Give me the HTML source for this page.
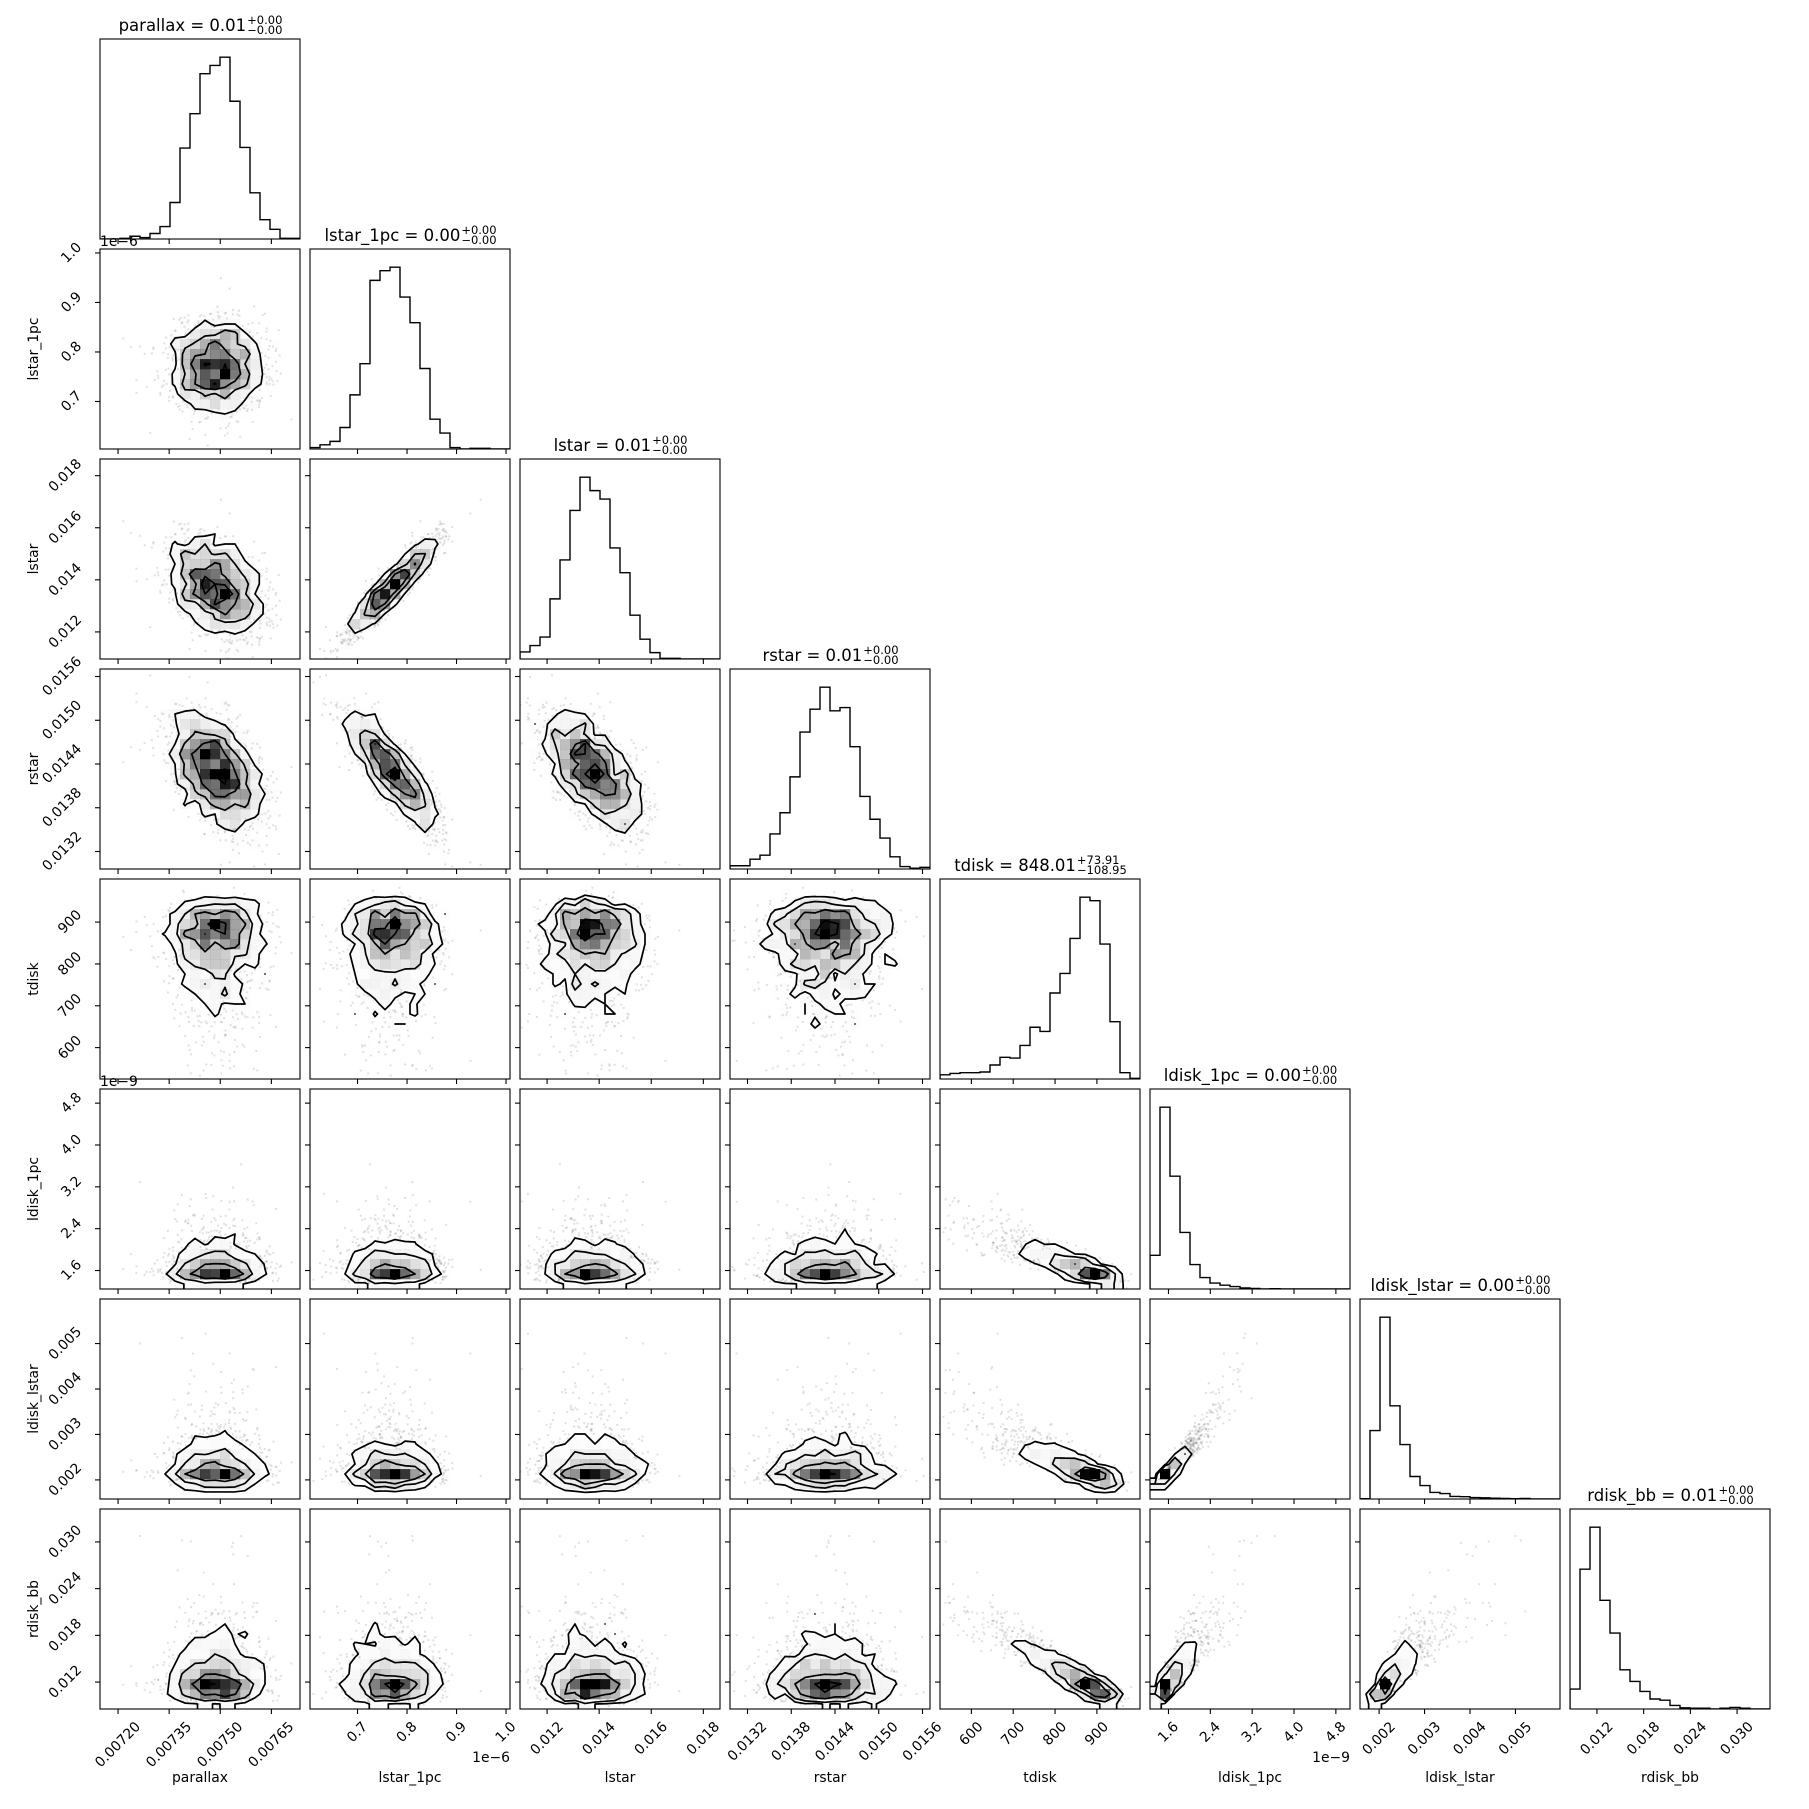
<!DOCTYPE html>
<html><head><meta charset="utf-8">
<style>html,body{margin:0;padding:0;background:#fff}svg{display:block}</style>
</head><body>
<svg id="s" width="1809" height="1809" xmlns="http://www.w3.org/2000/svg" font-family="DejaVu Sans, Liberation Sans, sans-serif"></svg>
<script>
(function(){
var seed=24681357;
function rnd(){seed|=0;seed=seed+0x6D2B79F5|0;var t=Math.imul(seed^seed>>>15,1|seed);t=t+Math.imul(t^t>>>7,61|t)^t;return((t^t>>>14)>>>0)/4294967296;}
function gauss(){var u=0;while(u===0)u=rnd();return Math.sqrt(-2*Math.log(u))*Math.cos(2*Math.PI*rnd());}
var W=200,G=210,L0=100,T0=39,NB=20;
var RANGE=[[0.007147,0.007734],[0.604,1.008],[0.01096,0.01864],[0.01296,0.015703],[525,1003],[1.247,5.07],[0.00158,0.00598],[0.00854,0.03423]];
var TICKS=[
 [[0.0072,"0.00720"],[0.00735,"0.00735"],[0.0075,"0.00750"],[0.00765,"0.00765"]],
 [[0.7,"0.7"],[0.8,"0.8"],[0.9,"0.9"],[1.0,"1.0"]],
 [[0.012,"0.012"],[0.014,"0.014"],[0.016,"0.016"],[0.018,"0.018"]],
 [[0.0132,"0.0132"],[0.0138,"0.0138"],[0.0144,"0.0144"],[0.0150,"0.0150"],[0.0156,"0.0156"]],
 [[600,"600"],[700,"700"],[800,"800"],[900,"900"]],
 [[1.6,"1.6"],[2.4,"2.4"],[3.2,"3.2"],[4.0,"4.0"],[4.8,"4.8"]],
 [[0.002,"0.002"],[0.003,"0.003"],[0.004,"0.004"],[0.005,"0.005"]],
 [[0.012,"0.012"],[0.018,"0.018"],[0.024,"0.024"],[0.030,"0.030"]]];
var NAMES=["parallax","lstar_1pc","lstar","rstar","tdisk","ldisk_1pc","ldisk_lstar","rdisk_bb"];
var TITLES=[["0.01","+0.00","\u22120.00"],["0.00","+0.00","\u22120.00"],["0.01","+0.00","\u22120.00"],["0.01","+0.00","\u22120.00"],["848.01","+73.91","\u2212108.95"],["0.00","+0.00","\u22120.00"],["0.00","+0.00","\u22120.00"],["0.01","+0.00","\u22120.00"]];
var CW={a:.613,b:.635,c:.55,d:.635,e:.615,i:.278,k:.579,l:.278,n:.634,p:.635,r:.411,s:.521,t:.392,x:.592,_:.5,'.':.318,' ':.318,'=':.838,'+':.838,'\u2212':.838};
function tw(s,sz){var w=0;for(var q=0;q<s.length;q++){var ch=s[q];w+=(CW[ch]!==undefined?CW[ch]:.636);}return w*sz;}
function fr(v,k){return (v-RANGE[k][0])/(RANGE[k][1]-RANGE[k][0]);}
var N=1600,S=[[],[],[],[],[],[],[],[]];
for(var k=0;k<N;k++){
 var z1=gauss(),z2=gauss(),n=gauss(),u=gauss(),n2=gauss(),n3=gauss(),n4=gauss(),n5=gauss(),n6=gauss();
 S[0].push(.58+.12*z1);
 S[1].push(.41+.12*z2);
 S[2].push(.36+.13*(.93*z2-.37*z1));
 S[3].push(.49+.15*(-.85*z2-.45*z1+.28*n));
 S[4].push(.95-.25*Math.exp(.55*u)+.03*n2);
 S[5].push(fr(1.33+0.04*n6+0.3*Math.exp(0.6*u+0.25*n3),5));
 S[6].push(fr(0.0019+0.00006*n6+0.0003*Math.exp(0.75*u+0.25*n3+0.2*n4),6));
 S[7].push(fr(0.0092+0.0005*n6+0.003*Math.exp(0.65*u+0.15*n5),7));
}
var out=[];
function f2(x){return x.toFixed(2);}
var LV=[0.5,1,1.5,2].map(function(s){return 1-Math.exp(-0.5*s*s);});
for(var i=0;i<8;i++){
 for(var j=0;j<=i;j++){
  var left=L0+G*j, top=T0+G*i, bot=top+W;
  var X=function(f){return left+f*W;}, Y=function(f){return top+(1-f)*W;};
  var cid="c"+i+"_"+j;
  out.push('<clipPath id="'+cid+'"><rect x="'+left+'" y="'+top+'" width="'+W+'" height="'+W+'"/></clipPath>');
  out.push('<g clip-path="url(#'+cid+')">');
  if(i===j){
   var h=new Array(NB).fill(0);
   S[i].forEach(function(v){if(v>=0&&v<1)h[Math.floor(v*NB)]++;});
   var mx=Math.max.apply(null,h)*1.1;
   var d='M'+f2(X(0))+' '+bot;
   for(var b=0;b<NB;b++){var yy=top+(1-h[b]/mx)*W;d+=' L'+f2(X(b/NB))+' '+f2(yy)+' L'+f2(X((b+1)/NB))+' '+f2(yy);}
   d+=' L'+f2(X(1))+' '+bot;
   out.push('<path d="'+d+'" fill="none" stroke="#000" stroke-width="1.4"/>');
  } else {
   var H=[];for(var a=0;a<NB;a++){H.push(new Array(NB).fill(0));}
   var xs=S[j],ys=S[i];
   for(var k2=0;k2<N;k2++){var x=xs[k2],y=ys[k2];if(x>=0&&x<1&&y>=0&&y<1)H[Math.floor(x*NB)][Math.floor(y*NB)]++;}
   var flat=[];H.forEach(function(r){r.forEach(function(v){flat.push(v);});});
   flat.sort(function(a,b){return b-a;});
   var tot=flat.reduce(function(a,b){return a+b;},0),cs=0,sm=flat.map(function(v){cs+=v;return cs/tot;});
   var V=LV.map(function(v0){var idx=-1;for(var q=0;q<sm.length;q++)if(sm[q]<=v0)idx=q;return idx<0?flat[0]:flat[idx];});
   V.sort(function(a,b){return a-b;});
   var Hmax=flat[0];
   var pts='';
   for(var k3=0;k3<N;k3++){var x=xs[k3],y=ys[k3];if(x<0||x>=1||y<0||y>=1)continue;
    if(H[Math.floor(x*NB)][Math.floor(y*NB)]>=V[0])continue;
    pts+='<rect x="'+f2(X(x)-1)+'" y="'+f2(Y(y)-1)+'" width="2" height="2"/>';}
   out.push('<g fill="#000" fill-opacity="0.12">'+pts+'</g>');
   for(var a=0;a<NB;a++)for(var b=0;b<NB;b++){var v=H[a][b];if(!v)continue;var t=1-v/Hmax;var c=Math.round(t*255);
    out.push('<rect x="'+f2(X(a/NB))+'" y="'+f2(Y((b+1)/NB))+'" width="10.3" height="10.3" fill="rgb('+c+','+c+','+c+')" fill-opacity="'+(1-t).toFixed(3)+'"/>');}
   var g2=function(m,n){if(m<1||m>22||n<1||n>22)return 0;return H[Math.min(19,Math.max(0,m-2))][Math.min(19,Math.max(0,n-2))];};
   var pos=function(m){return (m-2+0.5)/NB;};
   var cd='';
   V.forEach(function(lev){
    for(var m=0;m<23;m++)for(var nn=0;nn<23;nn++){
     var P=[[m,nn],[m+1,nn],[m+1,nn+1],[m,nn+1]];
     var vals=P.map(function(p){return g2(p[0],p[1]);});
     var cr=[];
     for(var e=0;e<4;e++){var p1=P[e],p2=P[(e+1)%4],v1=vals[e],v2=vals[(e+1)%4];
      if((v1>=lev)!==(v2>=lev)){var t=(lev-v1)/(v2-v1);var px=pos(p1[0])+t*(pos(p2[0])-pos(p1[0]));var py=pos(p1[1])+t*(pos(p2[1])-pos(p1[1]));cr.push([X(px),Y(py)]);}else cr.push(null);}
     var got=cr.filter(function(c){return c;});
     if(got.length===2){cd+='M'+f2(got[0][0])+' '+f2(got[0][1])+'L'+f2(got[1][0])+' '+f2(got[1][1]);}
     else if(got.length===4){var cen=(vals[0]+vals[1]+vals[2]+vals[3])/4;var pr;
      if((cen>=lev)===(vals[0]>=lev))pr=[[0,1],[2,3]];else pr=[[3,0],[1,2]];
      pr.forEach(function(q){cd+='M'+f2(cr[q[0]][0])+' '+f2(cr[q[0]][1])+'L'+f2(cr[q[1]][0])+' '+f2(cr[q[1]][1]);});}
    }
   });
   out.push('<path d="'+cd+'" fill="none" stroke="#000" stroke-width="1.7" stroke-linecap="round" stroke-linejoin="round"/>');
  }
  out.push('</g>');
  out.push('<rect x="'+left+'" y="'+top+'" width="'+W+'" height="'+W+'" fill="none" stroke="#000" stroke-width="1.1"/>');
  TICKS[j].forEach(function(tk){var xx=X(fr(tk[0],j));out.push('<line x1="'+f2(xx)+'" y1="'+bot+'" x2="'+f2(xx)+'" y2="'+(bot+5)+'" stroke="#000" stroke-width="1.1"/>');
   if(i===7){var w=tw(tk[1],13.9),bb=(w+13)*0.7071;out.push('<text x="'+f2(xx)+'" y="'+f2(bot+11+bb/2)+'" font-size="13.9" text-anchor="middle" dominant-baseline="central" transform="rotate(-45 '+f2(xx)+' '+f2(bot+11+bb/2)+')">'+tk[1]+'</text>');}
  });
  if(i!==j){
   TICKS[i].forEach(function(tk){var yy=Y(fr(tk[0],i));out.push('<line x1="'+(left-5)+'" y1="'+f2(yy)+'" x2="'+left+'" y2="'+f2(yy)+'" stroke="#000" stroke-width="1.1"/>');
    if(j===0){var w=tw(tk[1],13.9),bb=(w+13)*0.7071,cx=84-bb/2;out.push('<text x="'+f2(cx)+'" y="'+f2(yy)+'" font-size="13.9" text-anchor="middle" dominant-baseline="central" transform="rotate(-45 '+f2(cx)+' '+f2(yy)+')">'+tk[1]+'</text>');}
   });
  }
 }
 var tt=TITLES[i],main=NAMES[i]+" = "+tt[0],mw=tw(main,16.5),sw=Math.max(tw(tt[1],11.5),tw(tt[2],11.5));
 var cxT=L0+G*i+W/2,sx=cxT-(mw+sw)/2,by=T0+G*i-8;
 out.push('<text x="'+f2(sx)+'" y="'+by+'" font-size="16.5">'+main+'</text>');
 out.push('<text x="'+f2(sx+mw+1)+'" y="'+(by-7)+'" font-size="11.5">'+tt[1]+'</text>');
 out.push('<text x="'+f2(sx+mw+1)+'" y="'+(by+3)+'" font-size="11.5">'+tt[2]+'</text>');
 if(i>0){var yc=T0+G*i+W/2;out.push('<text x="34" y="'+yc+'" font-size="13.9" text-anchor="middle" dominant-baseline="central" transform="rotate(-90 34 '+yc+')">'+NAMES[i]+'</text>');}
 out.push('<text x="'+(L0+G*i+W/2)+'" y="1778" font-size="13.9" text-anchor="middle" dominant-baseline="central">'+NAMES[i]+'</text>');
}
out.push('<text x="100" y="246" font-size="13.9">1e\u22126</text>');
out.push('<text x="100" y="'+(T0+G*5-3)+'" font-size="13.9">1e\u22129</text>');
out.push('<text x="510" y="1762" font-size="13.9" text-anchor="end">1e\u22126</text>');
out.push('<text x="1350" y="1762" font-size="13.9" text-anchor="end">1e\u22129</text>');
document.getElementById('s').innerHTML=out.join('');
})();
</script>
</body></html>
